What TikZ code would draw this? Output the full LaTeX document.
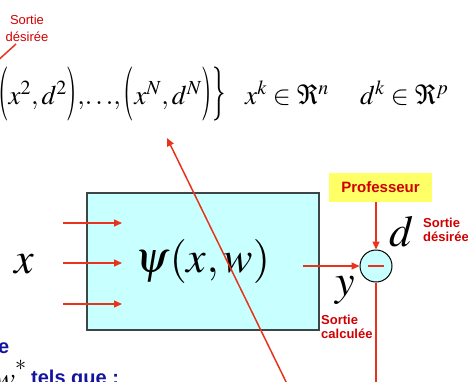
\documentclass[tikz,border=0pt]{standalone}
\usepackage{mathptmx}
\usepackage[no-math]{fontspec}
\newfontfamily\arialfont{Liberation Sans}
\usepackage{xcolor}
\usepackage{graphicx}
\usepackage{tikz}
\usetikzlibrary{arrows.meta, positioning}

\definecolor{arrred}{HTML}{E8341C}
\definecolor{txtred}{HTML}{D00000}
\definecolor{boxcyan}{HTML}{C8FFFF}
\definecolor{boxgray}{HTML}{3C4646}
\definecolor{profyellow}{HTML}{FFFF66}
\definecolor{txtblue}{HTML}{1414A0}

% tall thin delimiters for the learning set
\newcommand{\tallopen}[1]{\mathopen{\raisebox{-3.5pt}{\scalebox{1}[2.0]{$#1$}}}}
\newcommand{\tallclose}[1]{\mathclose{\raisebox{-3.5pt}{\scalebox{1}[2.0]{$#1$}}}}

\begin{document}
\begin{tikzpicture}[
  x=1pt, y=-1pt,
  bigmath/.style={inner sep=0pt, font=\fontsize{44}{48}\selectfont},
  midmath/.style={inner sep=0pt, font=\fontsize{27}{30}\selectfont},
  psibox/.style={draw=boxgray, line width=1.5pt, fill=boxcyan, minimum width=232pt,
                 minimum height=137pt, inner sep=0pt, font=\fontsize{44}{48}\selectfont},
  sumnode/.style={circle, draw=black, line width=1pt, fill=boxcyan, minimum size=32pt, inner sep=0pt},
  profbox/.style={fill=profyellow, minimum width=103pt, minimum height=29pt, inner sep=0pt,
                  text=txtred, font=\arialfont\bfseries\fontsize{15}{18}\selectfont},
  redlab/.style={inner sep=0pt, align=left, text=txtred,
                 font=\arialfont\bfseries\fontsize{13}{13.5}\selectfont},
  bluelab/.style={inner sep=0pt, text=txtblue, font=\arialfont\bfseries\fontsize{20}{22}\selectfont},
  redline/.style={line width=1.5pt, draw=arrred},
  arr/.style={redline, -{Triangle[length=8pt, width=7pt]}}
]
\useasboundingbox (0,0) rectangle (468,381);
\clip (0,0) rectangle (468,381);

% learning set
\node[midmath, anchor=base east] (set) at (226,104)
  {$\tallopen{\{}\tallopen{(}x^1,d^1\tallclose{)},\tallopen{(}x^2,d^2\tallclose{)},\!\ldots\!,%
    \tallopen{(}x^N,d^N\tallclose{)}\tallclose{\}}$};
\node[midmath, anchor=base west] (xk) at (245,104) {$x^k\in\Re^n$};
\node[midmath, anchor=base west] (dk) at (360,104) {$d^k\in\Re^p$};

\node[inner sep=0pt, align=center, text=txtred, font=\arialfont\fontsize{13}{17}\selectfont]
  (dtop) at (27,28.5) {Sortie\\désirée};
\coordinate (dtip) at (16,44);
\coordinate (dfar) at (-6,64);
\draw[redline] (dtip) -- (dfar);

% network
\node[psibox] (psi) at (203,261.5) {$\psi(x,w)$};
\node[bigmath] (xin) at (24,264) {$x$};
\foreach \yy [count=\i] in {223,263,304} {
  \coordinate (in\i) at (63,\yy);
  \coordinate (tip\i) at (122,\yy);
  \draw[arr] (in\i) -- (tip\i);
}

% comparison with the teacher
\node[sumnode] (sum) at (376,266) {{\color{arrred}\rule{16pt}{1.5pt}}};
\coordinate (yout) at (303,266);
\draw[arr] (yout) -- (sum.west);
\node[bigmath] (ylab) at (345,290) {$y$};
\node[redlab, anchor=west] (ycalc) at (321,327) {Sortie\\calculée};

\node[profbox] (prof) at (380.5,187.5) {Professeur};
\draw[arr] (prof.south -| sum.north) -- (sum.north);
\node[bigmath] (dlab) at (402,232) {$d$};
\node[redlab, anchor=west] (ddes) at (423,230) {Sortie\\désirée};

\coordinate (down) at (376,390);
\draw[redline] (sum.south) -- (down);

\coordinate (tail) at (291,392);
\coordinate (head) at (167,138);
\draw[arr] (tail) -- (head);

% goal text
\node[bluelab, anchor=base east] (eend) at (9.5,353) {e};
\node[inner sep=0pt, anchor=base east, font=\fontsize{30}{32}\selectfont] (wstar) at (27,388)
  {$w^{\raisebox{7pt}{$\scriptstyle *$}}$};
\node[bluelab, anchor=base west] (tq) at (31,384) {tels que :};
\end{tikzpicture}
\end{document}
